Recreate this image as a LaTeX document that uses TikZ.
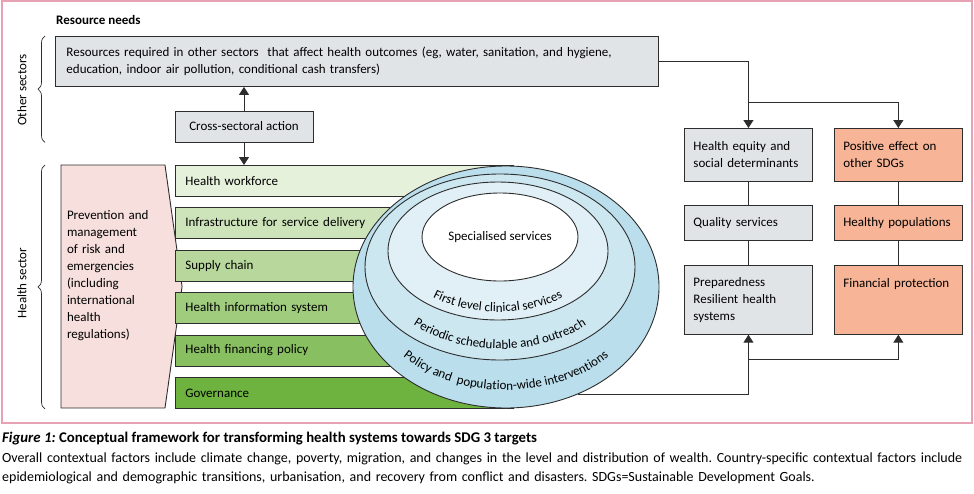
\documentclass[tikz,border=0pt]{standalone}
\usepackage{fontspec}
\setmainfont{Carlito}
\frenchspacing
\usetikzlibrary{shapes.geometric,shapes.symbols,arrows.meta,positioning,decorations.pathreplacing,decorations.text,calc}

\definecolor{boxgrey}{RGB}{225,228,231}
\definecolor{salmon}{RGB}{247,180,150}
\definecolor{pinkbg}{RGB}{246,223,221}
\definecolor{framepink}{RGB}{232,162,182}
\definecolor{barA}{RGB}{230,241,220}
\definecolor{barB}{RGB}{205,228,186}
\definecolor{barC}{RGB}{183,215,156}
\definecolor{barD}{RGB}{160,204,126}
\definecolor{barE}{RGB}{136,191,96}
\definecolor{barF}{RGB}{110,178,64}
\definecolor{ringA}{RGB}{186,222,236}
\definecolor{ringB}{RGB}{205,231,241}
\definecolor{ringC}{RGB}{224,240,246}
\definecolor{ink}{RGB}{45,45,45}

\newcommand{\arcfont}{\fontsize{13pt}{17pt}\selectfont}

\begin{document}
\begin{tikzpicture}[
  x=1pt, y=1pt,
  font=\fontsize{13pt}{17pt}\selectfont,
  greybox/.style={draw=ink, line width=0.9pt, fill=boxgrey, align=left,
                  inner xsep=9pt, inner ysep=0pt},
  sidebox/.style={greybox, anchor=north west, text width=110pt, minimum width=128pt},
  outbox/.style={sidebox, fill=salmon},
  bar/.style={draw=ink, line width=0.9pt, anchor=north west, minimum height=31pt,
              text width=318pt, inner xsep=10pt, inner ysep=0pt, align=left},
  ring/.style={ellipse, draw=ink, line width=0.9pt, inner sep=0pt},
  arr/.style={-{Triangle[length=8pt,width=10pt]}, line width=1pt, draw=ink},
  link/.style={line width=1pt, draw=ink},
  brc/.style={decorate, decoration={brace, amplitude=7pt}, line width=0.7pt, draw=ink},
  arctext/.style={decorate, decoration={text along path, text align=center}},
]
\useasboundingbox (0,0) rectangle (974,-493);
\draw[framepink, line width=1.6pt] (2,-1) rectangle (972,-423);

%% ---------- other sectors ----------
\node[anchor=west, inner sep=0pt, font=\bfseries\fontsize{13pt}{17pt}\selectfont] (need) at (56,-20) {Resource needs};
\node[greybox, anchor=north west, minimum width=603pt, minimum height=50pt, text width=581pt, inner xsep=11pt] (res) at (55,-36)
  {Resources required in other sectors\ \ that affect health outcomes (eg, water, sanitation, and hygiene,\\
   education, indoor air pollution, conditional cash transfers)};
\node[greybox, minimum width=138pt, minimum height=31pt, align=center] (cross) at (244,-126.5) {Cross-sectoral action};

%% ---------- health sector ----------
\node[signal, signal to=east, signal pointer angle=164, draw=ink, line width=0.9pt, fill=pinkbg,
      minimum width=116pt, minimum height=243pt, text width=92pt, inner xsep=6pt, align=left] (prevent) at (113,-286.5)
  {Prevention and\\ management\\ of risk and\\ emergencies\\ (including\\ international\\ health\\ regulations)\\[7pt] \mbox{}};

\foreach \i/\c/\t in {0/barA/Health workforce, 1/barB/Infrastructure for service delivery,
                      2/barC/Supply chain, 3/barD/Health information system,
                      4/barE/Health financing policy, 5/barF/Governance}
  \node[bar, fill=\c] (bar\i) at (175,{-165-42.4*\i}) {\t};

% nested service levels
\node[ring, fill=ringA, minimum width=306pt, minimum height=242pt] (outer) at (506,-287) {};
\node[ring, fill=ringB, minimum width=270pt, minimum height=186pt] (period) at (500,-267) {};
\node[ring, fill=ringC, minimum width=220pt, minimum height=138pt] (first) at (498,-251) {};
\node[ring, fill=white, minimum width=156pt, minimum height=88pt] (special) at (500,-237) {Specialised services};

\path[arctext, decoration={text={|\arcfont|First level clinical services}}]
  ([shift={(200:100pt and 61pt)}]first.center) arc[start angle=200, end angle=340, x radius=100pt, y radius=61pt];
\path[arctext, decoration={text={|\arcfont|Periodic schedulable and outreach}}]
  ([shift={(190:122pt and 82pt)}]period.center) arc[start angle=190, end angle=350, x radius=122pt, y radius=82pt];
\path[arctext, decoration={text={|\arcfont|Policy and\ \ population-wide interventions}}]
  ([shift={(190:140pt and 103pt)}]outer.center) arc[start angle=190, end angle=350, x radius=140pt, y radius=103pt];

\draw[arr] (cross.north) -- (cross.north |- res.south);
\draw[arr] (cross.south) -- (cross.south |- bar0.north);

% braces
\draw[brc] ([xshift=-10pt]res.west |- cross.south) -- ([xshift=-10pt]res.north west);
\node[rotate=90] (othlbl) at (22,-90) {Other sectors};
\draw[brc] ([xshift=-10pt]res.west |- bar5.south) -- ([xshift=-10pt]res.west |- bar0.north);
\node[rotate=90] (hlbl) at (22,-283) {Health sector};

%% ---------- outcomes ----------
\node[sidebox, minimum height=53pt] (equity) at (684,-128) {Health equity and\\ social determinants};
\node[outbox, minimum height=53pt, right=21pt of equity] (sdg) {Positive effect on\\ other SDGs};
\node[sidebox, minimum height=35pt, below=23pt of equity] (quality) {Quality services};
\node[outbox, minimum height=35pt, below=23pt of sdg] (healthy) {Healthy populations};
\node[sidebox, minimum height=69pt, below=24pt of quality] (prep) {Preparedness\\ Resilient health\\ systems};
\node[outbox, minimum height=69pt, below=24pt of healthy] (finprot) {Financial protection\\ \mbox{}\\ \mbox{}};

\draw[link] (equity) -- (quality);
\draw[link] (quality) -- (prep);
\draw[link] (sdg) -- (healthy);
\draw[link] (healthy) -- (finprot);

\coordinate (topjoin) at ($(equity.north)+(0,26)$);
\draw[arr] (res.east) -| (equity.north);
\draw[arr] (topjoin) -| (sdg.north);

\coordinate (polout) at (outer.-56);
\coordinate (lowjoin) at ($(prep.south)+(0,-25)$);
\draw[arr] (polout) -| (prep.south);
\draw[arr] (lowjoin) -| (finprot.south);

%% ---------- caption ----------
\node[anchor=north west, inner sep=0pt, font=\bfseries\fontsize{14.8pt}{17pt}\selectfont] (title) at (2,-432)
  {\textit{Figure 1:} Conceptual framework for transforming health systems towards SDG 3 targets};
\node[anchor=north west, inner sep=0pt, text width=972pt, align=left, font=\fontsize{14pt}{19pt}\selectfont] (notes) at (2,-453)
  {Overall contextual factors include climate change, poverty, migration, and changes in the level and distribution of wealth. Country-specific contextual factors include\\
   epidemiological and demographic transitions, urbanisation, and recovery from conflict and disasters. SDGs=Sustainable Development Goals.};
\end{tikzpicture}
\end{document}
